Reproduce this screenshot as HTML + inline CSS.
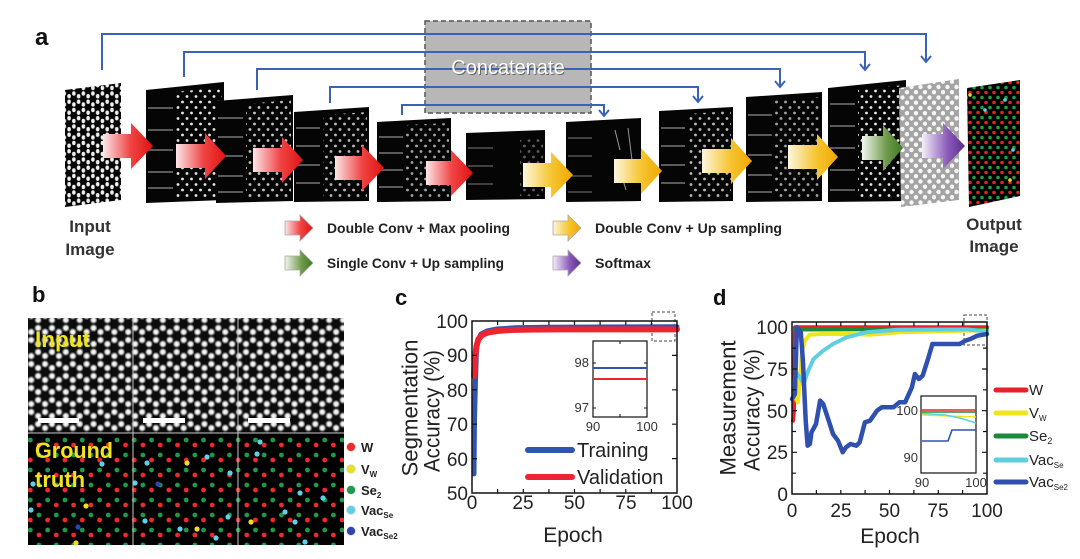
<!DOCTYPE html>
<html><head><meta charset="utf-8"><style>
html,body{margin:0;padding:0;background:#fff;}
svg{display:block;font-family:"Liberation Sans",Arial,sans-serif;}
</style></head><body>
<svg width="1080" height="559" viewBox="0 0 1080 559" xmlns="http://www.w3.org/2000/svg">
<defs>
  <radialGradient id="gdot"><stop offset="0" stop-color="#ffffff"/><stop offset="0.45" stop-color="#e6e6e6"/><stop offset="1" stop-color="#bbbbbb" stop-opacity="0"/></radialGradient>
  <pattern id="hexB" patternUnits="userSpaceOnUse" width="13.86" height="24">
    <rect width="13.86" height="24" fill="#0c0c0c"/>
    <circle cx="3.47" cy="4" r="4.2" fill="url(#gdot)"/>
    <circle cx="10.4" cy="8" r="4.2" fill="url(#gdot)"/>
    <circle cx="10.4" cy="16" r="4.2" fill="url(#gdot)"/>
    <circle cx="3.47" cy="20" r="4.2" fill="url(#gdot)"/>
  </pattern>
  <pattern id="hexC" patternUnits="userSpaceOnUse" width="17.32" height="30">
    <rect width="17.32" height="30" fill="#000"/>
    <circle cx="4.33" cy="5" r="2.4" fill="#1f9a4c"/>
    <circle cx="12.99" cy="10" r="2.4" fill="#ee2a2a"/>
    <circle cx="12.99" cy="20" r="2.4" fill="#1f9a4c"/>
    <circle cx="4.33" cy="25" r="2.4" fill="#ee2a2a"/>
  </pattern>
  <pattern id="hexIn" patternUnits="userSpaceOnUse" width="9.53" height="16.5">
    <rect width="9.53" height="16.5" fill="#050505"/>
    <ellipse cx="2.38" cy="2.75" rx="1.8" ry="2.2" fill="#eee"/>
    <ellipse cx="7.14" cy="5.5" rx="1.8" ry="2.2" fill="#eee"/>
    <ellipse cx="7.14" cy="11" rx="1.8" ry="2.2" fill="#eee"/>
    <ellipse cx="2.38" cy="13.75" rx="1.8" ry="2.2" fill="#eee"/>
  </pattern>
  <pattern id="bd" patternUnits="userSpaceOnUse" width="9" height="11">
    <circle cx="2.5" cy="3" r="1.4" fill="#e8e8e8"/>
    <circle cx="7" cy="8.5" r="1.4" fill="#e8e8e8"/>
  </pattern>
  <pattern id="gd" patternUnits="userSpaceOnUse" width="9" height="10.5">
    <rect width="9" height="10.5" fill="#a4a4a4"/>
    <circle cx="2.5" cy="3" r="2.2" fill="#f6f6f6"/>
    <circle cx="7" cy="8.2" r="2.2" fill="#f6f6f6"/>
  </pattern>
  <pattern id="od" patternUnits="userSpaceOnUse" width="8" height="10">
    <rect width="8" height="10" fill="#000"/>
    <circle cx="2" cy="2.5" r="1.8" fill="#e42222"/>
    <circle cx="6" cy="7.5" r="1.8" fill="#22a044"/>
  </pattern>
  <linearGradient id="gr" x1="0" x2="1" y1="0" y2="0"><stop offset="0" stop-color="#fce6e6"/><stop offset="0.55" stop-color="#f04444"/><stop offset="1" stop-color="#e01212"/></linearGradient>
  <linearGradient id="gy" x1="0" x2="1" y1="0" y2="0"><stop offset="0" stop-color="#fdf6de"/><stop offset="0.55" stop-color="#f6c634"/><stop offset="1" stop-color="#f0a800"/></linearGradient>
  <linearGradient id="gg" x1="0" x2="1" y1="0" y2="0"><stop offset="0" stop-color="#f2f6ef"/><stop offset="0.6" stop-color="#6e9a4a"/><stop offset="1" stop-color="#3d7a24"/></linearGradient>
  <linearGradient id="gp" x1="0" x2="1" y1="0" y2="0"><stop offset="0" stop-color="#f4eff9"/><stop offset="0.6" stop-color="#8a5ab8"/><stop offset="1" stop-color="#5a2c8e"/></linearGradient>
</defs>

<!-- ================= PANEL A ================= -->
<text x="35" y="45" font-size="24" font-weight="bold" fill="#111">a</text>

<!-- Concatenate box -->
<rect x="425" y="21" width="166" height="92" fill="#b7b7b7" stroke="#555" stroke-width="1.5" stroke-dasharray="5,3"/>

<!-- skip connections -->
<g fill="none" stroke="#3a62b8" stroke-width="2">
  <path d="M102,70 V34 H926 V62"/>
  <path d="M184,77 V52 H865 V70"/>
  <path d="M257,90 V69 H780 V87"/>
  <path d="M330,103 V87 H698 V102"/>
  <path d="M402,115 V105 H604 V116"/>
  <path d="M921,56 L926,62 L931,56"/>
  <path d="M860,64 L865,70 L870,64"/>
  <path d="M775,81 L780,87 L785,81"/>
  <path d="M693,96 L698,102 L703,96"/>
  <path d="M599,110 L604,116 L609,110"/>
</g>
<text x="509" y="75" font-size="20" text-anchor="middle" fill="#666">Concatenate</text>
<text x="508" y="74" font-size="20" text-anchor="middle" fill="#fff">Concatenate</text>

<!-- input image -->
<polygon points="65,90 121,83 121,200 65,207" fill="url(#hexIn)"/>

<!-- blocks -->
<g>
  <polygon points="146,90 224,82 224,200 146,203" fill="#050505"/>
  <path d="M148,108H173M148,130H173M148,150H173M148,172H173M148,188H173" stroke="#777" stroke-width="1.5"/>
  <polygon points="176,92 222,87 222,197 176,198" fill="url(#bd)"/>

  <polygon points="216,101 293,95 293,201 216,203" fill="#050505"/>
  <path d="M218,118H243M218,137H243M218,156H243M218,176H243M218,192H243" stroke="#777" stroke-width="1.5"/>
  <polygon points="246,104 291,100 291,198 246,198" fill="url(#bd)" opacity="0.85"/>

  <polygon points="294,112 369,107 369,201 294,202" fill="#050505"/>
  <path d="M296,128H320M296,146H320M296,165H320M296,183H320" stroke="#777" stroke-width="1.5"/>
  <polygon points="323,115 367,112 367,198 323,198" fill="url(#bd)" opacity="0.8"/>

  <polygon points="377,122 451,118 451,201 377,202" fill="#050505"/>
  <path d="M379,137H403M379,153H403M379,170H403M379,187H403" stroke="#777" stroke-width="1.5"/>
  <polygon points="406,125 449,123 449,198 406,198" fill="url(#bd)" opacity="0.7"/>

  <polygon points="466,133 545,130 545,199 466,200" fill="#050505"/>
  <path d="M468,148H493M468,166H493M468,184H493" stroke="#555" stroke-width="1.5"/>
  <polygon points="520,140 543,139 543,196 520,196" fill="url(#bd)" opacity="0.4"/>

  <polygon points="566,122 641,118 641,201 566,202" fill="#050505"/>
  <path d="M568,138H592M568,156H592M568,176H592M568,192H592" stroke="#555" stroke-width="1.5"/>
  <path d="M615,130 L620,150 M628,128 L632,160 M620,170 L626,190" stroke="#999" stroke-width="1"/>

  <polygon points="659,111 733,107 733,201 659,202" fill="#050505"/>
  <path d="M661,128H685M661,146H685M661,165H685M661,183H685" stroke="#777" stroke-width="1.5"/>
  <polygon points="688,114 731,111 731,198 688,198" fill="url(#bd)" opacity="0.8"/>

  <polygon points="746,97 822,92 822,201 746,202" fill="#050505"/>
  <path d="M748,115H772M748,135H772M748,155H772M748,175H772M748,192H772" stroke="#777" stroke-width="1.5"/>
  <polygon points="775,100 820,97 820,198 775,198" fill="url(#bd)" opacity="0.7"/>

  <polygon points="828,88 906,80 906,201 828,202" fill="#050505"/>
  <path d="M830,104H855M830,126H855M830,148H855M830,170H855M830,190H855" stroke="#777" stroke-width="1.5"/>
  <polygon points="858,90 904,85 904,198 858,198" fill="url(#bd)"/>
</g>

<!-- gray image & output -->
<polygon points="899,88 959,79 959,200 901,207" fill="url(#gd)"/>
<polygon points="967,88 1020,80 1020,196 969,207" fill="url(#od)"/>
<circle cx="985" cy="110" r="1.8" fill="#5fd0e8"/>
<circle cx="1005" cy="100" r="1.8" fill="#5fd0e8"/>
<circle cx="1013" cy="150" r="1.8" fill="#5fd0e8"/>
<circle cx="1010" cy="180" r="1.8" fill="#e8e020"/>
<circle cx="970" cy="95" r="1.8" fill="#e8e020"/>

<!-- arrows -->
<g>
  <path d="M103,134 H131 V123 L153,146 L131,169 V158 H103 Z" fill="url(#gr)"/>
  <path d="M176,144 H205 V133 L226,156 L205,179 V168 H176 Z" fill="url(#gr)"/>
  <path d="M253,148 H282 V137 L303,160 L282,183 V172 H253 Z" fill="url(#gr)"/>
  <path d="M335,156 H362 V145 L384,168 L362,191 V180 H335 Z" fill="url(#gr)"/>
  <path d="M426,161 H451 V150 L473,173 L451,196 V185 H426 Z" fill="url(#gr)"/>

  <path d="M523,163 H551 V152 L573,175 L551,198 V187 H523 Z" fill="url(#gy)"/>
  <path d="M614,159 H641 V148 L662,171 L641,194 V183 H614 Z" fill="url(#gy)"/>
  <path d="M702,149 H731 V138 L752,161 L731,184 V173 H702 Z" fill="url(#gy)"/>
  <path d="M788,145 H817 V134 L838,157 L817,180 V169 H788 Z" fill="url(#gy)"/>

  <path d="M862,136 H883 V125 L903,148 L883,171 V160 H862 Z" fill="url(#gg)"/>
  <path d="M922,134 H943 V123 L965,146 L943,169 V158 H922 Z" fill="url(#gp)"/>
</g>

<!-- labels -->
<g font-size="17" font-weight="bold" fill="#333" text-anchor="middle">
  <text x="90" y="232">Input</text>
  <text x="90" y="255">Image</text>
  <text x="994" y="230">Output</text>
  <text x="994" y="252">Image</text>
</g>

<!-- legend a -->
<g stroke="#a8a8a8" stroke-width="0.8">
  <path d="M285,221 H300 V215 L313,228 L300,241 V235 H285 Z" fill="url(#gr)"/>
  <path d="M285,256 H300 V250 L313,263 L300,276 V270 H285 Z" fill="url(#gg)"/>
  <path d="M553,221 H568 V215 L581,228 L568,241 V235 H553 Z" fill="url(#gy)"/>
  <path d="M553,256 H568 V250 L581,263 L568,276 V270 H553 Z" fill="url(#gp)"/>
</g>
<g font-size="14" font-weight="bold" fill="#222">
  <text x="327" y="233" textLength="183" lengthAdjust="spacingAndGlyphs">Double Conv + Max pooling</text>
  <text x="327" y="268" textLength="177" lengthAdjust="spacingAndGlyphs">Single Conv + Up sampling</text>
  <text x="595" y="233" textLength="187" lengthAdjust="spacingAndGlyphs">Double Conv + Up sampling</text>
  <text x="595" y="268" textLength="56" lengthAdjust="spacingAndGlyphs">Softmax</text>
</g>

<!-- ================= PANEL B ================= -->
<text x="32" y="302" font-size="22" font-weight="bold" fill="#111">b</text>
<rect x="28" y="318" width="316" height="115" fill="url(#hexB)"/>
<rect x="28" y="433" width="316" height="112" fill="url(#hexC)"/>
<g fill="#5fd0e8">
  <circle cx="102" cy="464" r="2.6"/><circle cx="33" cy="484" r="2.6"/><circle cx="31" cy="510" r="2.6"/>
  <circle cx="147" cy="463" r="2.6"/><circle cx="207" cy="457" r="2.6"/><circle cx="230" cy="473" r="2.6"/>
  <circle cx="135" cy="483" r="2.6"/><circle cx="145" cy="521" r="2.6"/><circle cx="180" cy="529" r="2.6"/>
  <circle cx="228" cy="517" r="2.6"/><circle cx="216" cy="538" r="2.6"/>
  <circle cx="260" cy="442" r="2.6"/><circle cx="257" cy="454" r="2.6"/><circle cx="300" cy="493" r="2.6"/>
  <circle cx="323" cy="498" r="2.6"/><circle cx="285" cy="512" r="2.6"/><circle cx="295" cy="522" r="2.6"/>
  <circle cx="305" cy="542" r="2.6"/>
</g>
<g fill="#ece020">
  <circle cx="86" cy="506" r="2.6"/><circle cx="76" cy="543" r="2.6"/><circle cx="187" cy="463" r="2.6"/>
  <circle cx="197" cy="529" r="2.6"/><circle cx="251" cy="522" r="2.6"/>
</g>
<g fill="#2f45b0">
  <circle cx="78" cy="527" r="2.6"/><circle cx="158" cy="484" r="2.6"/>
</g>
<path d="M133,318V545M238,318V545M28,433H344" stroke="#c8c8c8" stroke-width="1"/>
<g fill="#fff">
  <rect x="38" y="418" width="41" height="5"/>
  <rect x="143" y="418" width="42" height="5"/>
  <rect x="248" y="418" width="42" height="5"/>
</g>
<g font-size="22" font-weight="bold" fill="#f0e41c">
  <text x="35" y="347" textLength="55" lengthAdjust="spacingAndGlyphs">Input</text>
  <text x="35" y="458" textLength="78" lengthAdjust="spacingAndGlyphs">Ground</text>
  <text x="35" y="487">truth</text>
</g>
<!-- b legend -->
<g stroke="#ddd" stroke-width="0.8">
  <circle cx="351" cy="447" r="4.5" fill="#ee2a2a"/>
  <circle cx="351" cy="469" r="4.5" fill="#e8e020"/>
  <circle cx="351" cy="490" r="4.5" fill="#1f9a4c"/>
  <circle cx="351" cy="510" r="4.5" fill="#5fd0e8"/>
  <circle cx="351" cy="531" r="4.5" fill="#2f45b0"/>
</g>
<g font-size="13" font-weight="bold" fill="#222">
  <text x="361" y="452">W</text>
  <text x="361" y="474">V<tspan font-size="8" dy="3">W</tspan></text>
  <text x="361" y="495">Se<tspan font-size="8" dy="3">2</tspan></text>
  <text x="361" y="515">Vac<tspan font-size="8" dy="3">Se</tspan></text>
  <text x="361" y="536">Vac<tspan font-size="8" dy="3">Se2</tspan></text>
</g>

<!-- ================= PANEL C ================= -->
<text x="395" y="305" font-size="22" font-weight="bold" fill="#111">c</text>
<rect x="652" y="312" width="23" height="29" fill="none" stroke="#444" stroke-width="1" stroke-dasharray="3,2"/>
<g fill="none" stroke-linecap="round" stroke-linejoin="round">
  <path d="M474,474 L474.5,420 L475.5,380 L476.5,350 L478,340 L481,334 L487,331 L497,329 L515,327.8 L545,327.2 L600,327 L677,326.8" stroke="#3055b0" stroke-width="5"/>
  <path d="M474,376 L475,358 L476.5,346 L478.5,339 L482,335 L488,332.5 L497,331 L510,330 L530,329.6 L560,329.4 L677,329.4" stroke="#ee2530" stroke-width="6"/>
</g>
<rect x="472" y="321" width="205" height="172" fill="none" stroke="#111" stroke-width="1.5"/>
<path d="M472,458.6h5M472,424.2h5M472,389.8h5M472,355.4h5M677,458.6h-5M677,424.2h-5M677,389.8h-5M677,355.4h-5M497.6,493v-4M523.3,493v-4M548.9,493v-4M574.5,493v-4M600.1,493v-4M625.8,493v-4M651.4,493v-4M497.6,321v4M523.3,321v4M548.9,321v4M574.5,321v4M600.1,321v4M625.8,321v4M651.4,321v4" stroke="#111" stroke-width="1.2"/>
<g font-size="19" fill="#222" text-anchor="end">
  <text x="468" y="328">100</text><text x="468" y="362">90</text><text x="468" y="397">80</text>
  <text x="468" y="431">70</text><text x="468" y="466">60</text><text x="468" y="500">50</text>
</g>
<g font-size="19" fill="#222" text-anchor="middle">
  <text x="472" y="509">0</text><text x="523" y="509">25</text><text x="574.5" y="509">50</text>
  <text x="626" y="509">75</text><text x="677" y="509">100</text>
</g>
<text x="573" y="542" font-size="21" fill="#222" text-anchor="middle">Epoch</text>
<text transform="translate(410,408) rotate(-90)" font-size="22" fill="#222" text-anchor="middle" dominant-baseline="central" textLength="137" lengthAdjust="spacingAndGlyphs">Segmentation</text>
<text transform="translate(432,411) rotate(-90)" font-size="22" fill="#222" text-anchor="middle" dominant-baseline="central" textLength="122" lengthAdjust="spacingAndGlyphs">Accuracy (%)</text>
<!-- inset c -->
<rect x="593" y="341" width="54" height="76" fill="#fff" stroke="#111" stroke-width="1.2"/>
<path d="M593,368 H647" stroke="#3055b0" stroke-width="2"/>
<path d="M593,379 H647" stroke="#ee2530" stroke-width="2"/>
<path d="M593,363h3M593,408h3M647,363h-3M647,408h-3M620,417v-3M620,341v3" stroke="#111" stroke-width="1"/>
<g font-size="13" fill="#333">
  <text x="589" y="367" text-anchor="end">98</text>
  <text x="589" y="412" text-anchor="end">97</text>
  <text x="593" y="431" text-anchor="middle">90</text>
  <text x="647" y="431" text-anchor="middle">100</text>
</g>
<!-- legend c -->
<path d="M528,450 H572" stroke="#3055b0" stroke-width="6" stroke-linecap="round"/>
<path d="M528,477 H572" stroke="#ee2530" stroke-width="6" stroke-linecap="round"/>
<g font-size="20" fill="#222">
  <text x="577" y="457">Training</text>
  <text x="577" y="484">Validation</text>
</g>

<!-- ================= PANEL D ================= -->
<text x="713" y="305" font-size="22" font-weight="bold" fill="#111">d</text>
<rect x="964" y="315" width="23" height="30" fill="none" stroke="#444" stroke-width="1" stroke-dasharray="3,2"/>
<g fill="none" stroke-linecap="round" stroke-linejoin="round">
  <path d="M793,420.7 L794,410.7 L794.9,327.3 L987,327.3" stroke="#e8202a" stroke-width="4"/>
  <path d="M795.9,329.5 L987,329" stroke="#1a8a3a" stroke-width="4"/>
  <path d="M793,394 L795.9,399 L797.9,402.3 L799.8,380.6 L801.8,352.3 L804.9,340.6 L809.6,334.8 L821.3,334 L850.5,334 L870,334.8 L899.3,332.3 L967.5,330.6 L987,330.6" stroke="#f0e41c" stroke-width="4"/>
  <path d="M793,390.7 L795.9,372.3 L799.8,377.3 L803.7,384 L807.6,372.3 L813.5,359 L823.2,350.6 L833,344 L846.6,337.3 L866.1,332.3 L897.3,329.8 L948,329.5 L967.5,329.5 L987,331.5" stroke="#5fcfe0" stroke-width="4"/>
  <path d="M792,399 L794.9,394 L796.9,327.3 L800.8,332.3 L802.9,360.6 L805.7,420.7 L807.6,445.7 L809.9,444 L811.5,432.3 L816,424 L820.1,400.6 L823.2,404 L828.7,420.7 L833,434 L838,440.7 L842.7,452.3 L846,447.3 L850.5,444 L856.4,445.7 L859.7,442.3 L864.9,422.3 L870,420.7 L877,410.7 L881.7,407.3 L893.4,407.3 L899.3,402.3 L905.1,402.3 L911.9,387.3 L914.9,374 L918.8,379 L922.7,375.6 L927.5,360.6 L932.4,344 L959.7,344 L965.6,340.6 L970.4,339 L977.3,335.7 L987,334" stroke="#3050b0" stroke-width="4.5"/>
</g>
<rect x="792" y="322" width="195" height="172" fill="none" stroke="#111" stroke-width="1.5"/>
<path d="M792,473.2h4M792,452.3h5M792,431.5h4M792,410.7h5M792,389.8h4M792,369h5M792,348.1h4M987,473.2h-4M987,452.3h-5M987,431.5h-4M987,410.7h-5M987,389.8h-4M987,369h-5M987,348.1h-4M816.4,494v-4M840.8,494v-4M865.1,494v-4M889.5,494v-4M913.9,494v-4M938.3,494v-4M962.6,494v-4M816.4,322v4M840.8,322v4M865.1,322v4M889.5,322v4M913.9,322v4M938.3,322v4M962.6,322v4" stroke="#111" stroke-width="1.2"/>
<g font-size="19" fill="#222" text-anchor="end">
  <text x="788" y="334">100</text><text x="788" y="376">75</text><text x="788" y="418">50</text>
  <text x="788" y="459">25</text><text x="788" y="501">0</text>
</g>
<g font-size="19" fill="#222" text-anchor="middle">
  <text x="792" y="517">0</text><text x="841" y="517">25</text><text x="889.5" y="517">50</text>
  <text x="938" y="517">75</text><text x="987" y="517">100</text>
</g>
<text x="890" y="543" font-size="21" fill="#222" text-anchor="middle">Epoch</text>
<text transform="translate(728,408) rotate(-90)" font-size="22" fill="#222" text-anchor="middle" dominant-baseline="central" textLength="135" lengthAdjust="spacingAndGlyphs">Measurement</text>
<text transform="translate(752,410) rotate(-90)" font-size="22" fill="#222" text-anchor="middle" dominant-baseline="central" textLength="122" lengthAdjust="spacingAndGlyphs">Accuracy (%)</text>
<!-- inset d -->
<rect x="921" y="396" width="55" height="77" fill="#fff" stroke="#111" stroke-width="1.2"/>
<g fill="none" stroke-width="1.6">
  <path d="M922,410 H976" stroke="#e8202a"/>
  <path d="M922,412 H976" stroke="#1a8a3a"/>
  <path d="M922,415 L950,416 L976,417" stroke="#f0e41c"/>
  <path d="M922,413.5 L945,415 L960,418 L976,423" stroke="#5fcfe0"/>
  <path d="M922,441 H948 L952,430 H976" stroke="#3050b0"/>
</g>
<g font-size="13" fill="#333">
  <text x="918" y="415" text-anchor="end">100</text>
  <text x="918" y="462" text-anchor="end">90</text>
  <text x="922" y="487" text-anchor="middle">90</text>
  <text x="976" y="487" text-anchor="middle">100</text>
</g>
<!-- legend d -->
<g stroke-width="5" stroke-linecap="round">
  <path d="M996,390 H1026" stroke="#e8202a"/>
  <path d="M996,413 H1026" stroke="#f0e41c"/>
  <path d="M996,436 H1026" stroke="#1a8a3a"/>
  <path d="M996,460 H1026" stroke="#5fcfe0"/>
  <path d="M996,482 H1026" stroke="#3050b0"/>
</g>
<g font-size="15" fill="#222">
  <text x="1029" y="395">W</text>
  <text x="1029" y="418">V<tspan font-size="8" dy="3">W</tspan></text>
  <text x="1029" y="441">Se<tspan font-size="9" dy="3">2</tspan></text>
  <text x="1029" y="465">Vac<tspan font-size="8" dy="3">Se</tspan></text>
  <text x="1029" y="487">Vac<tspan font-size="8" dy="3">Se2</tspan></text>
</g>
</svg>
</body></html>
